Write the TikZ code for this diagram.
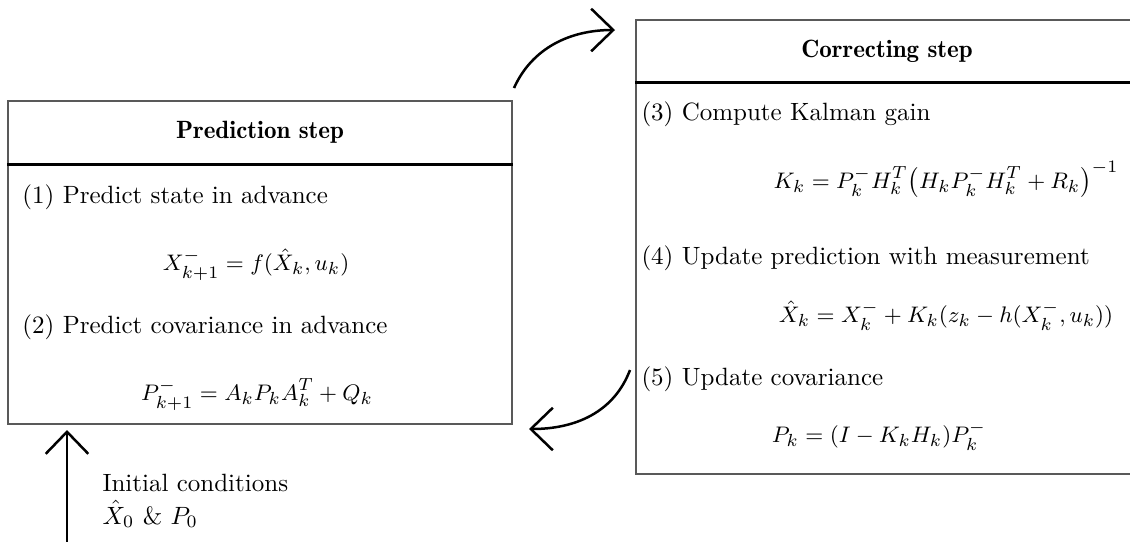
\documentclass[tikz,border=0pt]{standalone}
\usetikzlibrary{arrows.meta}
\begin{document}
\begin{tikzpicture}[x=0.4pt,y=-0.4pt,
  box/.style={draw=black!65, line width=0.6pt, rectangle, inner sep=0pt},
  hline/.style={line width=1.2pt},
  flow/.style={line width=1pt, -{Straight Barb[length=8.8pt,width=17pt]}},
  txt/.style={anchor=base west, inner sep=0pt},
  eqn/.style={anchor=base, inner sep=0pt, font=\fontsize{9.5}{11}\selectfont},
  ttl/.style={inner sep=0pt, font=\fontseries{b}\selectfont}]
\useasboundingbox (0,0) rectangle (1130,541);
% boxes
\node[box, minimum width=201.6pt, minimum height=129.2pt] (pred) at (260,262.5) {};
\node[box, minimum width=199.2pt, minimum height=181.6pt] (corr) at (885,247) {};
\coordinate (ph) at (0,164);
\coordinate (ch) at (0,82);
\draw[hline] (pred.west |- ph) -- (pred.east |- ph);
\draw[hline] (corr.west |- ch) -- (corr.east |- ch);
% titles
\node[ttl] (ptitle) at (260,132) {Prediction step};
\node[ttl] (ctitle) at (887,51) {Correcting step};
% left contents
\node[txt] (s1) at (22,203) {(1) Predict state in advance};
\node[eqn] (e1) at (256,270) {$X_{k+1}^{-} = f(\hat{X}_k, u_k)$};
\node[txt] (s2) at (22,333) {(2) Predict covariance in advance};
\node[eqn] (e2) at (257,400) {$P_{k+1}^{-} = A_k P_k A_k^T + Q_k$};
% right contents
\node[txt] (s3) at (641,120) {(3) Compute Kalman gain};
\node[eqn] (e3) at (946,188) {$K_k = P_k^{-} H_k^T \bigl(H_k P_k^{-} H_k^T + R_k\bigr)^{-1}$};
\node[txt] (s4) at (641,264) {(4) Update prediction with measurement};
\node[eqn] (e4) at (946,322) {$\hat{X}_k = X_k^{-} + K_k(z_k - h(X_k^{-}, u_k))$};
\node[txt] (s5) at (641,385) {(5) Update covariance};
\node[eqn] (e5) at (879,442) {$P_k = (I - K_k H_k) P_k^{-}$};
% initial conditions
\node[txt] (i1) at (102,491) {Initial conditions};
\node[txt] (i2) at (102,524) {$\hat{X}_0$ \& $P_0$};
% arrows
\coordinate (a1s) at (514,88);
\coordinate (a1e) at (615,30);
\draw[flow] (a1s) .. controls (532,48) and (570,30) .. (a1e);
\coordinate (a2s) at (630,370);
\coordinate (a2e) at (529,429);
\draw[flow] (a2s) .. controls (614,412) and (576,429) .. (a2e);
\coordinate (a3s) at (67,545);
\coordinate (a3e) at (67,430);
\draw[flow] (a3s) -- (a3e);
\end{tikzpicture}
\end{document}
